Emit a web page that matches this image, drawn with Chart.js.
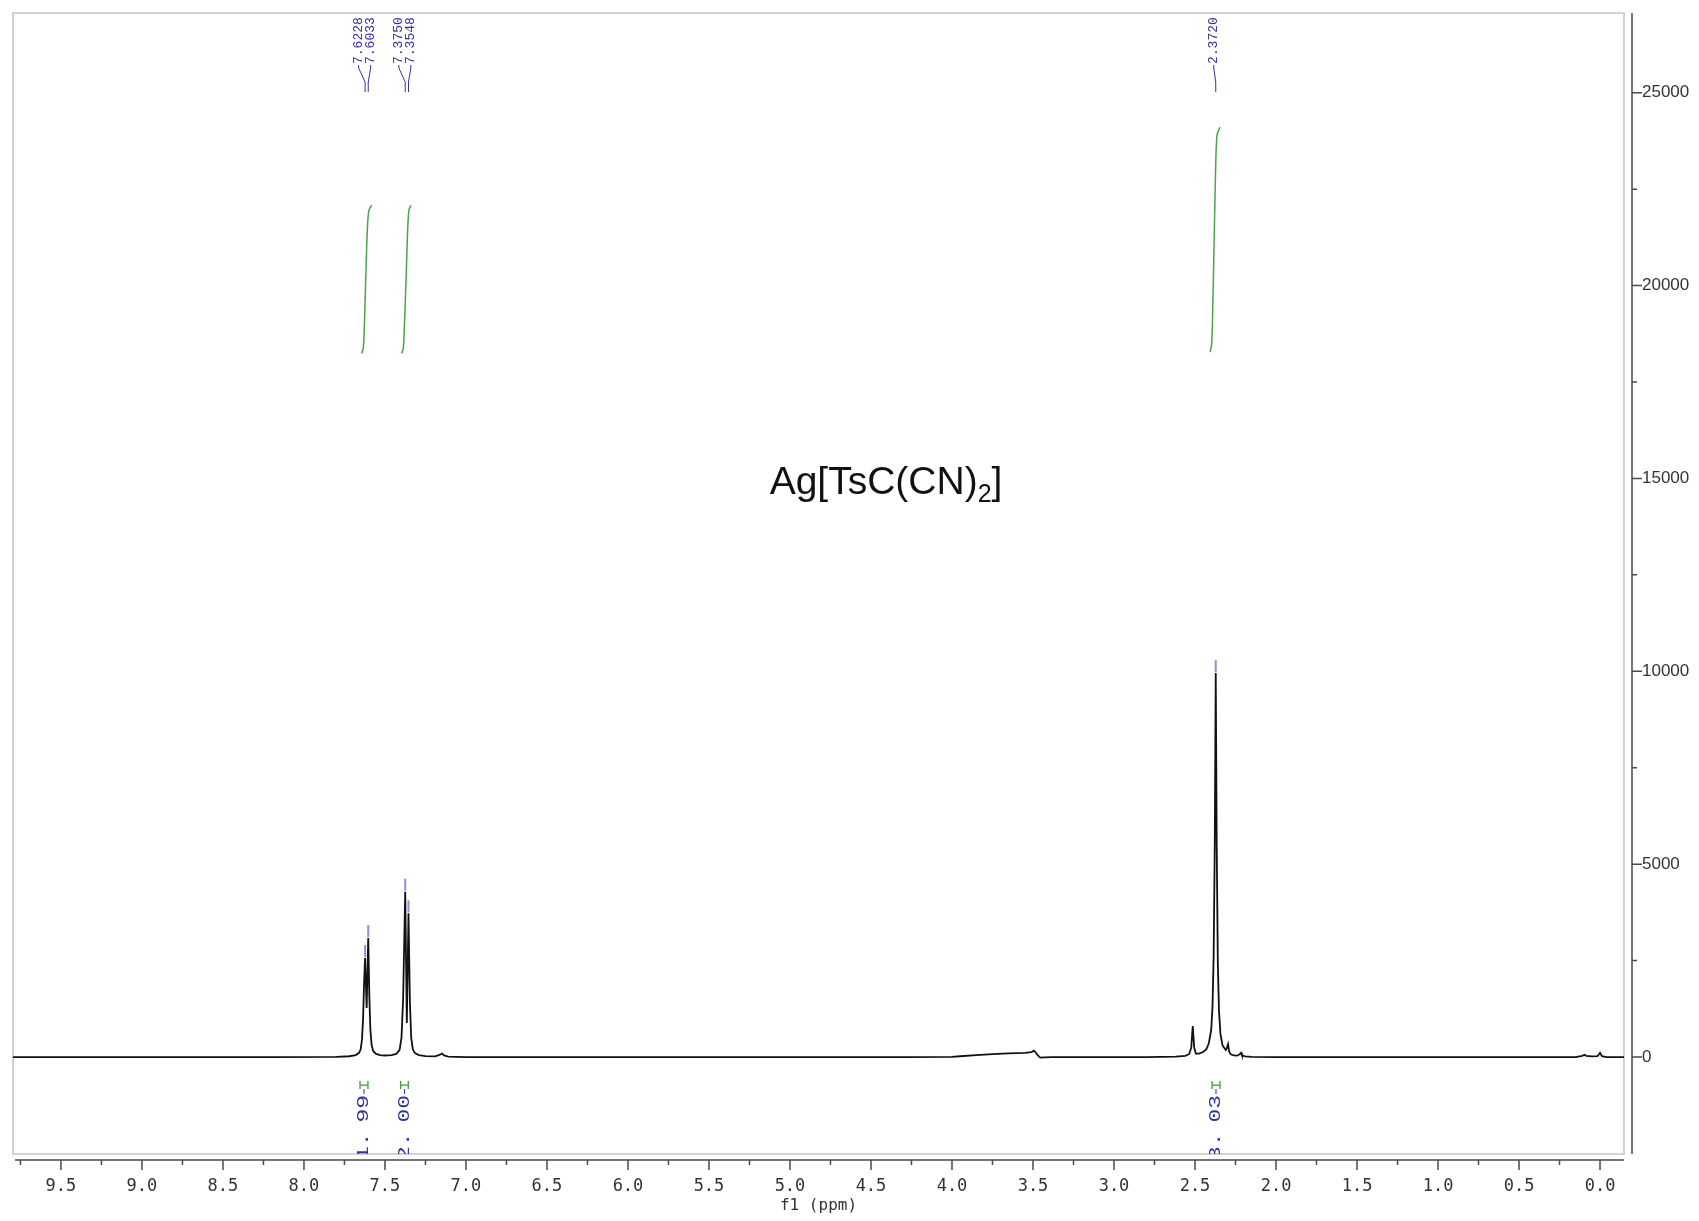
<!DOCTYPE html>
<html><head><meta charset="utf-8">
<script src="https://cdn.jsdelivr.net/npm/chart.js@4.4.1/dist/chart.umd.min.js"></script>
<style>html,body{margin:0;padding:0;background:#fff;overflow:hidden}#wrap{width:1699px;height:1221px;position:relative}canvas{display:block}</style>
</head><body><div id="wrap"><canvas id="c" width="1699" height="1221" style="width:1699px;height:1221px"></canvas></div>
<script>
// ---------- data ----------
const compoundMain = 'Ag[TsC(CN)';
const compoundSub = '2';
const compoundEnd = ']';
const xAxisTitle = 'f1 (ppm)';
const xRange = [-0.148, 9.796];
const yRange = [-2514, 27066];
const xTicks = [9.5, 9.0, 8.5, 8.0, 7.5, 7.0, 6.5, 6.0, 5.5, 5.0, 4.5, 4.0, 3.5, 3.0, 2.5, 2.0, 1.5, 1.0, 0.5, 0.0];
const xTickLabels = ['9.5','9.0','8.5','8.0','7.5','7.0','6.5','6.0','5.5','5.0','4.5','4.0','3.5','3.0','2.5','2.0','1.5','1.0','0.5','0.0'];
const xMinorTicks = [9.75, 9.25, 8.75, 8.25, 7.75, 7.25, 6.75, 6.25, 5.75, 5.25, 4.75, 4.25, 3.75, 3.25, 2.75, 2.25, 1.75, 1.25, 0.75, 0.25];
const yTicks = [0, 5000, 10000, 15000, 20000, 25000];
const yTickLabels = ['0','5000','10000','15000','20000','25000'];
const yMinorTicks = [2500, 7500, 12500, 17500, 22500];

const specPpm = [9.796, 9.0, 8.2, 7.80, 7.72, 7.68, 7.66, 7.65, 7.642, 7.635, 7.629, 7.6228, 7.613, 7.6033, 7.596, 7.590, 7.582, 7.572, 7.555, 7.53, 7.50, 7.46, 7.43, 7.41, 7.398, 7.388, 7.3750, 7.365, 7.3548, 7.346, 7.338, 7.328, 7.315, 7.29, 7.25, 7.19, 7.16, 7.148, 7.135, 7.11, 7.0, 6.0, 5.0, 4.3, 4.0, 3.95, 3.85, 3.75, 3.65, 3.55, 3.51, 3.495, 3.485, 3.47, 3.455, 3.43, 3.38, 2.8, 2.62, 2.56, 2.535, 2.523, 2.514, 2.505, 2.495, 2.475, 2.45, 2.43, 2.415, 2.40, 2.392, 2.385, 2.378, 2.3720, 2.366, 2.359, 2.352, 2.343, 2.33, 2.31, 2.302, 2.296, 2.29, 2.28, 2.26, 2.24, 2.222, 2.216, 2.21, 2.19, 2.15, 2.0, 1.5, 1.0, 0.5, 0.15, 0.11, 0.095, 0.085, 0.05, 0.015, 0.0, -0.012, -0.04, -0.148];
const specInt = [0, 0, 0, 5, 20, 50, 110, 200, 450, 1000, 1900, 2566, 1270, 3085, 1500, 700, 300, 150, 80, 50, 40, 50, 80, 180, 500, 1500, 4285, 880, 3725, 1400, 500, 200, 100, 50, 25, 15, 60, 90, 40, 10, 0, 0, 0, 0, 5, 20, 50, 75, 95, 110, 125, 165, 130, 40, -15, -10, 0, 0, 10, 30, 80, 250, 800, 250, 90, 90, 130, 200, 350, 700, 1300, 2600, 5500, 9953, 5500, 2400, 1200, 600, 300, 180, 250, 330, 150, 70, 40, 35, 80, 110, 40, 15, 5, 0, 0, 0, 0, 0, 30, 60, 30, 15, 25, 110, 20, 0, 0];

const peakPpm = [7.6228, 7.6033, 7.3750, 7.3548, 2.3720];
const peakLabels = ['7.6228', '7.6033', '7.3750', '7.3548', '2.3720'];
const peakGroup = [0, 0, 1, 1, 2];

const integ1Ppm = [7.644, 7.634, 7.628, 7.619, 7.609, 7.599, 7.582];
const integ1Val = [18240, 18370, 18845, 20140, 21436, 21955, 22084];
const integ2Ppm = [7.397, 7.387, 7.381, 7.370, 7.360, 7.352, 7.340];
const integ2Val = [18240, 18370, 18845, 20140, 21436, 21955, 22084];
const integ3Ppm = [2.407, 2.398, 2.392, 2.383, 2.373, 2.364, 2.346];
const integ3Val = [18274, 18456, 19100, 20920, 22990, 23900, 24106];

const integralLabels = ['1.99', '2.00', '3.03'];
const integralFrom = [7.654, 7.403, 2.395];
const integralTo = [7.605, 7.356, 2.346];

// ---------- helpers ----------
const pts = (xs, ys) => xs.map((v, i) => ({x: v, y: ys[i]}));
const BLUE = '#33339c';

const decor = {
  id: 'decor',
  beforeDatasetsDraw(chart) {
    const {ctx, chartArea: a} = chart;
    ctx.save();
    ctx.strokeStyle = '#d2d2d2';
    ctx.lineWidth = 2;
    ctx.strokeRect(a.left, a.top, a.right - a.left, a.bottom - a.top);
    ctx.restore();
  },
  afterDraw(chart) {
    const {ctx, chartArea: a, scales: {x, y}} = chart;
    ctx.save();
    // axes
    ctx.strokeStyle = '#4a4a4a';
    ctx.lineWidth = 1.5;
    const axY = a.bottom + 6;
    ctx.beginPath();
    ctx.moveTo(a.left + 2, axY); ctx.lineTo(a.right, axY);
    xTicks.forEach(v => { const p = x.getPixelForValue(v); ctx.moveTo(p, axY); ctx.lineTo(p, axY + 10); });
    xMinorTicks.forEach(v => { const p = x.getPixelForValue(v); ctx.moveTo(p, axY); ctx.lineTo(p, axY + 5); });
    const axX = a.right + 8;
    ctx.moveTo(axX, a.top); ctx.lineTo(axX, a.bottom);
    yTicks.forEach(v => { const p = y.getPixelForValue(v); ctx.moveTo(axX, p); ctx.lineTo(axX + 10, p); });
    yMinorTicks.forEach(v => { const p = y.getPixelForValue(v); ctx.moveTo(axX, p); ctx.lineTo(axX + 5, p); });
    ctx.stroke();

    // axis title
    ctx.fillStyle = '#333';
    ctx.font = '16px "DejaVu Sans Mono"';
    ctx.textAlign = 'center';
    ctx.textBaseline = 'middle';
    ctx.fillText(xAxisTitle, (a.left + a.right) / 2, 1206);

    // compound title
    ctx.fillStyle = '#111';
    ctx.textAlign = 'left';
    ctx.textBaseline = 'alphabetic';
    const big = '39px "Liberation Sans"', small = '25px "Liberation Sans"';
    ctx.font = big; const w1 = ctx.measureText(compoundMain).width; const w3 = ctx.measureText(compoundEnd).width;
    ctx.font = small; const w2 = ctx.measureText(compoundSub).width;
    let tx = 886 - (w1 + w2 + w3) / 2; const base = 494;
    ctx.font = big; ctx.fillText(compoundMain, tx, base); tx += w1;
    ctx.font = small; ctx.fillText(compoundSub, tx, base + 8); tx += w2;
    ctx.font = big; ctx.fillText(compoundEnd, tx, base);

    // peak markers and labels
    const groups = {};
    peakPpm.forEach((v, i) => { (groups[peakGroup[i]] = groups[peakGroup[i]] || []).push(i); });
    ctx.font = '13px "Liberation Mono"';
    Object.values(groups).forEach(idx => {
      const pxs = idx.map(i => x.getPixelForValue(peakPpm[i]));
      const c = pxs.reduce((s, v) => s + v, 0) / pxs.length - 2;
      idx.forEach((i, k) => {
        const lx = c + (k - (idx.length - 1) / 2) * 12;
        const px = pxs[k];
        ctx.strokeStyle = BLUE; ctx.lineWidth = 1;
        ctx.beginPath();
        ctx.moveTo(lx, 65); ctx.lineTo(lx, 68); ctx.lineTo(px, 82); ctx.lineTo(px, 92);
        ctx.stroke();
        ctx.save();
        ctx.translate(lx, 64); ctx.rotate(-Math.PI / 2);
        ctx.fillStyle = BLUE; ctx.textAlign = 'left'; ctx.textBaseline = 'middle';
        ctx.fillText(peakLabels[i], 0, 0);
        ctx.restore();
        // mark at top of peak
        const h = specInt[specPpm.indexOf(peakPpm[i])];
        const py = y.getPixelForValue(h);
        ctx.strokeStyle = '#8c8ce0'; ctx.lineWidth = 2;
        ctx.beginPath(); ctx.moveTo(px, py - 1); ctx.lineTo(px, py - 13); ctx.stroke();
      });
    });

    // integral marks and labels (clipped to plot frame)
    ctx.save();
    ctx.beginPath(); ctx.rect(a.left, a.top, a.right - a.left, a.bottom - a.top); ctx.clip();
    const iy = y.getPixelForValue(0) + 28;
    const sx = 1.35;
    integralLabels.forEach((lab, i) => {
      const x1 = x.getPixelForValue(integralFrom[i]);
      const x2 = x.getPixelForValue(integralTo[i]);
      const cx = (x1 + x2) / 2;
      ctx.strokeStyle = '#3e9e3e'; ctx.lineWidth = 1.3;
      ctx.beginPath();
      ctx.moveTo(x1, iy); ctx.lineTo(x2, iy);
      ctx.moveTo(x1, iy - 4); ctx.lineTo(x1, iy + 4);
      ctx.moveTo(x2, iy - 4); ctx.lineTo(x2, iy + 4);
      ctx.stroke();
      ctx.strokeStyle = BLUE; ctx.lineWidth = 1;
      ctx.beginPath(); ctx.moveTo(cx, iy + 4); ctx.lineTo(cx, iy + 9); ctx.stroke();
      ctx.save();
      ctx.translate(cx, iy + 10); ctx.rotate(-Math.PI / 2); ctx.scale(sx, 1);
      ctx.font = '17px "Liberation Mono"'; ctx.fillStyle = BLUE;
      ctx.textAlign = 'right'; ctx.textBaseline = 'middle';
      const dot = lab.indexOf('.');
      const head = lab.slice(0, dot + 1), tail = lab.slice(dot + 1);
      const tw = ctx.measureText(tail).width;
      ctx.fillText(tail, 0, 0);
      ctx.fillText(head, -(tw + 10 / sx), 0);
      ctx.restore();
    });
    ctx.restore();
    ctx.restore();
  }
};

new Chart(document.getElementById('c'), {
  type: 'scatter',
  data: {
    datasets: [
      {data: pts(specPpm, specInt), showLine: true, borderColor: '#111', borderWidth: 1.8, pointRadius: 0, tension: 0},
      {data: pts(integ1Ppm, integ1Val), showLine: true, borderColor: '#4aa44a', borderWidth: 1.5, pointRadius: 0, tension: 0.3},
      {data: pts(integ2Ppm, integ2Val), showLine: true, borderColor: '#4aa44a', borderWidth: 1.5, pointRadius: 0, tension: 0.3},
      {data: pts(integ3Ppm, integ3Val), showLine: true, borderColor: '#4aa44a', borderWidth: 1.5, pointRadius: 0, tension: 0.3}
    ]
  },
  options: {
    responsive: false,
    animation: false,
    devicePixelRatio: 1,
    layout: {padding: {left: 13, top: 13, right: 0, bottom: 0}},
    plugins: {legend: {display: false}, tooltip: {enabled: false}},
    scales: {
      x: {
        type: 'linear', reverse: true, min: xRange[0], max: xRange[1], position: 'bottom',
        afterBuildTicks: s => { s.ticks = xTicks.map(v => ({value: v})); },
        afterFit: s => { s.height = 67; s.paddingLeft = 0; s.paddingRight = 0; s.paddingTop = 0; s.paddingBottom = 0; },
        grid: {display: true, drawOnChartArea: false, drawTicks: false, color: 'rgba(0,0,0,0)'},
        border: {display: false},
        ticks: {
          autoSkip: false, maxRotation: 0, padding: 22, color: '#333',
          font: {family: 'DejaVu Sans Mono', size: 17},
          callback: (v) => { const i = xTicks.indexOf(v); return i >= 0 ? xTickLabels[i] : ''; }
        }
      },
      y: {
        type: 'linear', position: 'right', min: yRange[0], max: yRange[1],
        afterBuildTicks: s => { s.ticks = yTicks.map(v => ({value: v})); },
        afterFit: s => { s.width = 75; s.paddingTop = 0; s.paddingBottom = 0; s.paddingLeft = 0; s.paddingRight = 0; },
        grid: {display: true, drawOnChartArea: false, drawTicks: false, color: 'rgba(0,0,0,0)'},
        border: {display: false},
        ticks: {
          padding: 18, color: '#333',
          font: {family: 'Liberation Sans', size: 17},
          callback: (v) => { const i = yTicks.indexOf(v); return i >= 0 ? yTickLabels[i] : ''; }
        }
      }
    }
  },
  plugins: [decor]
});
</script>
</body></html>
